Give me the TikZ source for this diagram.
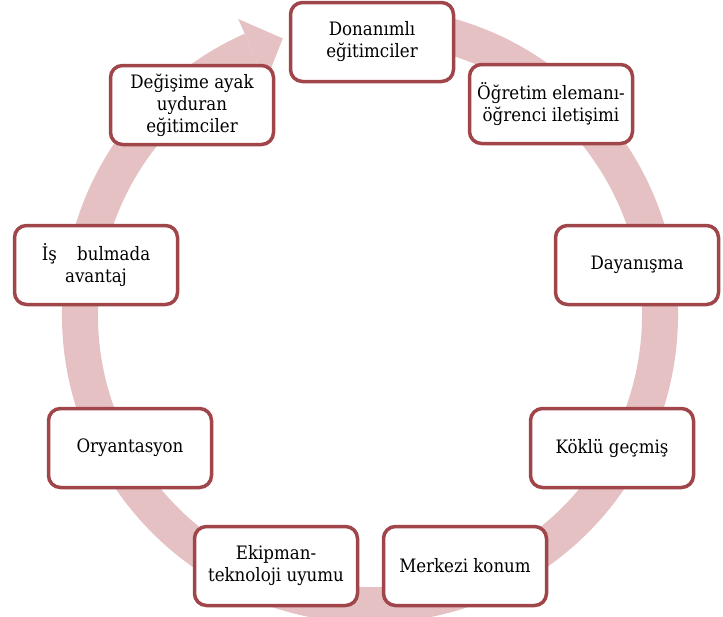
\documentclass[tikz,border=0pt]{standalone}
\usepackage{fontspec}
\setmainfont{DejaVu Serif Condensed}
\usetikzlibrary{calc}
\definecolor{boxred}{RGB}{160,70,74}
\definecolor{ringpink}{RGB}{229,193,195}
\tikzset{item/.style={draw=boxred,line width=3.5pt,fill=white,rounded corners=12pt,
  minimum width=163pt,minimum height=79pt,align=center,inner sep=2pt,
  font=\fontsize{18.5}{22}\selectfont}}

\begin{document}
\begin{tikzpicture}[x=1pt,y=1pt]
\useasboundingbox (0,0) rectangle (723,-616);
\clip (0,0) rectangle (723,-616);
% ring with its head at the top
\coordinate (c) at (370,-315);
\draw[ringpink,line width=36pt] ($(c)+(80:290)$) arc[start angle=80,end angle=-246,radius=290];
\fill[ringpink] ($(c)+(114:324)$) -- ($(c)+(107.5:290)$) -- ($(c)+(114:256)$) -- cycle;
% boxes, clockwise from the top
\node[item] (don) at (372,-42) {Donanımlı\\eğitimciler};
\node[item] (ogr) at (551,-104) {Öğretim elemanı-\\öğrenci iletişimi};
\node[item] (day) at (637,-265) {Dayanışma};
\node[item] (kok) at (612,-448) {Köklü geçmiş};
\node[item] (mer) at (465,-566) {Merkezi konum};
\node[item] (eki) at (276,-566) {Ekipman-\\teknoloji uyumu};
\node[item] (ory) at (130,-448) {Oryantasyon};
\node[item] (is) at (96,-265) {İş\hspace{1.1em}bulmada\\avantaj};
\node[item] (deg) at (192,-105) {Değişime ayak\\uyduran\\eğitimciler};
\end{tikzpicture}
\end{document}
